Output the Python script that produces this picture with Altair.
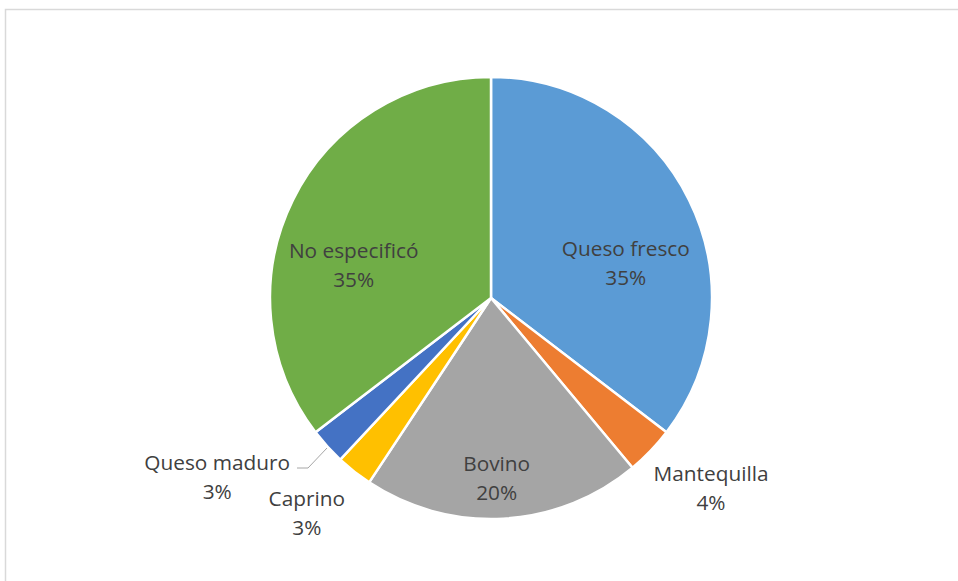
import altair as alt
import pandas as pd

categories = ["Queso fresco", "Mantequilla", "Bovino", "Caprino", "Queso maduro", "No especificó"]
counts = [40, 4, 23, 3, 3, 40]
colors = ["#5B9BD5", "#ED7D31", "#A5A5A5", "#FFC000", "#4472C4", "#70AD47"]

# label placement styling: angular offset (degrees) from slice middle, and radius (px)
label_dtheta = [12.2, -2.7, 1.4, 2.2, 8.8, -13.2]
label_radius = [139, 292, 182, 284, 328, 141]

total = sum(counts)
rows = []
cum = 0
for i, (c, n) in enumerate(zip(categories, counts)):
    mid = (cum + n / 2) / total * 360
    cum += n
    pct = round(n / total * 100)
    rows.append({
        "idx": i,
        "cat": c,
        "n": n,
        "label": f"{c}\n{pct}%",
        "ltheta": mid + label_dtheta[i],
        "lr": label_radius[i],
    })
df = pd.DataFrame(rows)

CX, CY, R = 491, 298, 221

base = alt.Chart(df)

border = base.mark_rect(fill="white", stroke="#D9D9D9", strokeWidth=1.5).encode(
    x=alt.value(5.5), y=alt.value(9.5), x2=alt.value(1000), y2=alt.value(700)
).transform_filter("datum.idx == 0")

arcs = base.mark_arc(radius=R, stroke="white", strokeWidth=2.5).encode(
    theta=alt.Theta("n:Q", stack=True, scale=alt.Scale(domain=[0, total])),
    order=alt.Order("idx:Q"),
    color=alt.Color("cat:N", scale=alt.Scale(domain=categories, range=colors), legend=None),
    x=alt.value(CX),
    y=alt.value(CY),
)

labels = base.mark_text(
    lineBreak="\n", font="Open Sans", fontSize=20.8, color="#404040", lineHeight=29,
    align="center", baseline="middle", dy=-14.5,
).encode(
    theta=alt.Theta("ltheta:Q", stack=False, scale=alt.Scale(domain=[0, 360])),
    radius=alt.Radius("lr:Q", scale=None),
    text="label:N",
    x=alt.value(CX),
    y=alt.value(CY),
)

leader1 = base.mark_rule(color="#A6A6A6", strokeWidth=1).encode(
    x=alt.value(327), y=alt.value(448), x2=alt.value(308), y2=alt.value(468)
).transform_filter("datum.idx == 4")
leader2 = base.mark_rule(color="#A6A6A6", strokeWidth=1).encode(
    x=alt.value(308), y=alt.value(468), x2=alt.value(297), y2=alt.value(468)
).transform_filter("datum.idx == 4")

chart = alt.layer(border, arcs, labels, leader1, leader2).resolve_scale(
    theta="independent"
).properties(
    width=958, height=581, autosize=alt.AutoSizeParams(type="none"), padding=0
).configure_view(stroke=None)

chart.save("out.html", embed_options={"renderer": "svg", "actions": False})
